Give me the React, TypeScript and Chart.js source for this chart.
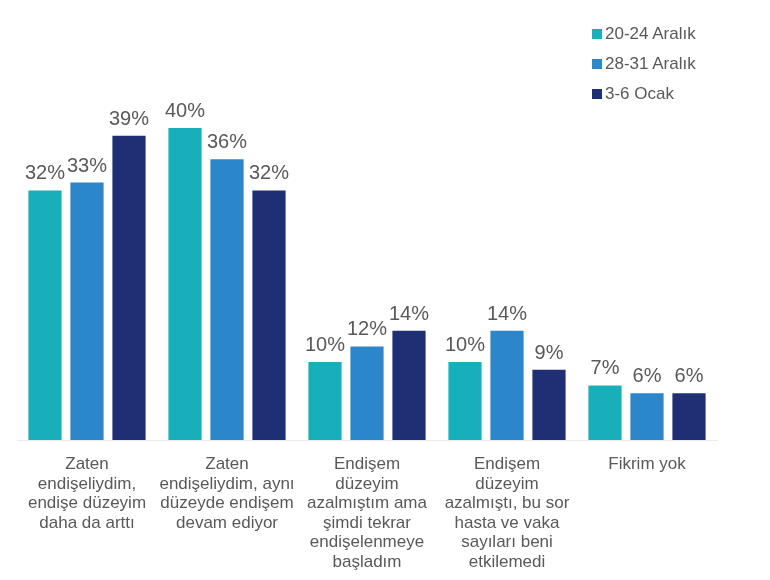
import React, { useEffect, useRef } from "react";
import { Chart, registerables } from "chart.js";

Chart.register(...registerables);

const categories: string[][] = [
  ["Zaten", "endişeliydim,", "endişe düzeyim", "daha da arttı"],
  ["Zaten", "endişeliydim, aynı", "düzeyde endişem", "devam ediyor"],
  ["Endişem", "düzeyim", "azalmıştım ama", "şimdi tekrar", "endişelenmeye", "başladım"],
  ["Endişem", "düzeyim", "azalmıştı, bu sor", "hasta ve vaka", "sayıları beni", "etkilemedi"],
  ["Fikrim yok"],
];

const seriesNames = ["20-24 Aralık", "28-31 Aralık", "3-6 Ocak"];
const series1 = [32, 40, 10, 10, 7];
const series2 = [33, 36, 12, 14, 6];
const series3 = [39, 32, 14, 9, 6];
const colors = ["#17AFB9", "#2B87CA", "#1E2F74"];

const FONT = "'Liberation Sans', Arial, sans-serif";
const TEXT = "#595959";

const valueLabels = {
  id: "valueLabels",
  afterDatasetsDraw(chart: any) {
    const ctx = chart.ctx;
    ctx.save();
    ctx.font = `20px ${FONT}`;
    ctx.fillStyle = TEXT;
    ctx.textAlign = "center";
    ctx.textBaseline = "alphabetic";
    chart.data.datasets.forEach((ds: any, i: number) => {
      const meta = chart.getDatasetMeta(i);
      meta.data.forEach((bar: any, j: number) => {
        ctx.fillText(ds.data[j] + "%", bar.x, bar.y - 11);
      });
    });
    ctx.restore();
  },
};

export default function App() {
  const ref = useRef<HTMLCanvasElement>(null);
  useEffect(() => {
    document.body.style.margin = "0";
    const chart = new Chart(ref.current!, {
      type: "bar",
      data: {
        labels: categories,
        datasets: [series1, series2, series3].map((d, i) => ({
          label: seriesNames[i],
          data: d,
          backgroundColor: colors[i],
          categoryPercentage: 0.9,
          barPercentage: 0.79,
        })),
      },
      options: {
        animation: false,
        responsive: false,
        layout: { padding: { left: 17, right: 53, top: 50, bottom: 0 } },
        plugins: { legend: { display: false }, tooltip: { enabled: false } },
        scales: {
          y: { display: false, min: 0, max: 50 },
          x: {
            grid: { display: false },
            border: { display: true, color: "#ebebeb", width: 1 },
            ticks: {
              color: TEXT,
              font: { family: FONT, size: 17, lineHeight: "19.5px" },
              padding: 7,
              maxRotation: 0,
              autoSkip: false,
            },
            afterFit: (scale: any) => {
              scale.height = 140;
            },
          },
        },
      },
      plugins: [valueLabels],
    });
    return () => chart.destroy();
  }, []);

  return (
    <div style={{ position: "relative", width: 770, height: 580, background: "#fff" }}>
      <canvas ref={ref} width={770} height={580} style={{ display: "block" }} />
      <div style={{ position: "absolute", left: 592, top: 19, fontFamily: FONT, fontSize: 17, color: TEXT }}>
        {seriesNames.map((n, i) => (
          <div key={n} style={{ display: "flex", alignItems: "center", height: 30 }}>
            <span style={{ display: "inline-block", width: 10, height: 10, background: colors[i], marginRight: 3 }} />
            <span>{n}</span>
          </div>
        ))}
      </div>
    </div>
  );
}
